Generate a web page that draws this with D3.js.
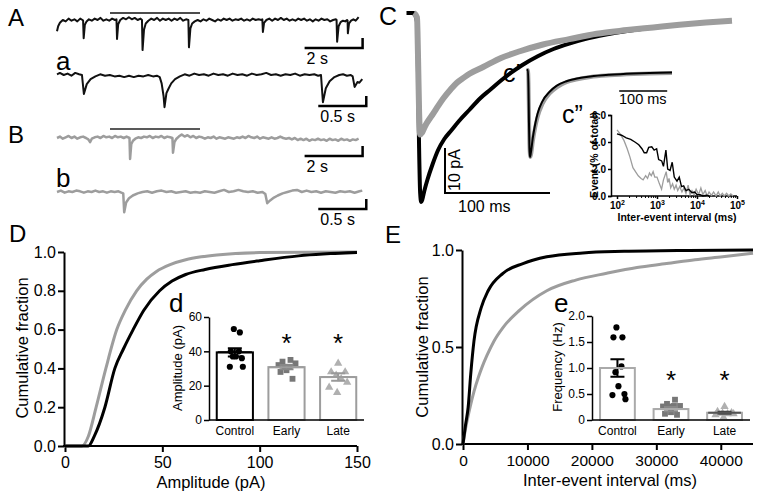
<!DOCTYPE html>
<html>
<head>
<meta charset="utf-8">
<script src="https://cdn.jsdelivr.net/npm/d3@7"></script>
<style>
  body { margin: 0; background: #fff; }
</style>
</head>
<body>
<div id="fig"></div>
<script>
// ---------- data ----------

// A / a / B / b : raw traces, [time (s), current (pA)]
var traceA = [[0,-16],[0.04,-9],[0.1,-4],[0.2,0],[0.3,-2],[0.4,2],[0.5,-1],[0.6,1],[0.7,-2],[0.8,2],[0.88,0],[0.9,-1],[0.92,-26],[0.96,-7],[1.02,-2],[1.1,1],[1.2,-1],[1.3,2],[1.4,0],[1.5,3],[1.6,-1],[1.7,1],[1.8,-1],[1.9,2],[2.0,0],[2.05,1],[2.07,-27],[2.11,-6],[2.18,0],[2.28,3],[2.38,1],[2.48,4],[2.58,1],[2.68,3],[2.78,0],[2.88,2],[2.93,0],[2.95,-43],[3.0,-14],[3.06,-5],[3.15,-1],[3.25,2],[3.35,0],[3.45,3],[3.55,-1],[3.65,2],[3.75,0],[3.85,2],[3.95,-1],[4.05,2],[4.15,0],[4.25,3],[4.35,-1],[4.45,1],[4.53,0],[4.55,-39],[4.6,-12],[4.66,-5],[4.75,-2],[4.85,0],[4.95,-2],[5.05,1],[5.15,-1],[5.25,2],[5.35,0],[5.45,-2],[5.55,1],[5.65,-1],[5.75,2],[5.85,0],[5.95,2],[6.05,-1],[6.15,1],[6.25,0],[6.35,2],[6.45,-1],[6.55,1],[6.65,-1],[6.75,2],[6.85,0],[6.95,1],[7.05,0],[7.08,1],[7.1,-17],[7.14,-4],[7.22,0],[7.32,2],[7.42,-1],[7.52,2],[7.62,0],[7.72,3],[7.82,0],[7.92,2],[8.02,-1],[8.12,1],[8.22,-1],[8.32,2],[8.42,0],[8.52,2],[8.62,-1],[8.72,1],[8.82,-2],[8.92,1],[9.02,-1],[9.12,2],[9.22,0],[9.32,1],[9.42,-2],[9.52,0],[9.62,1],[9.64,0],[9.66,-31],[9.71,-9],[9.78,-3],[9.86,-1],[9.94,-2],[10.0,0],[10.02,-1],[10.03,-19],[10.07,-5],[10.14,-1],[10.22,1],[10.3,-1],[10.36,2],[10.4,4]];

var traceA2 = [[0,1],[0.03,3],[0.07,0],[0.11,2],[0.15,-1],[0.19,3],[0.23,1],[0.26,0],[0.28,-27],[0.31,-13],[0.35,-6],[0.4,-2],[0.45,1],[0.5,-1],[0.55,0],[0.6,-2],[0.65,-1],[0.7,-3],[0.75,-1],[0.8,-3],[0.85,-1],[0.9,-2],[0.95,0],[1.0,-2],[1.04,-1],[1.07,-3],[1.09,-12],[1.11,-30],[1.12,-46],[1.14,-26],[1.16,-20],[1.19,-12],[1.23,-6],[1.28,-2],[1.33,1],[1.38,-1],[1.43,2],[1.48,0],[1.53,1],[1.58,-1],[1.63,2],[1.68,0],[1.73,1],[1.78,-1],[1.83,2],[1.88,0],[1.93,1],[1.98,-1],[2.03,2],[2.08,0],[2.13,1],[2.18,3],[2.23,0],[2.28,1],[2.33,-1],[2.38,1],[2.43,0],[2.48,2],[2.53,-1],[2.58,1],[2.63,0],[2.68,1],[2.72,-1],[2.75,0],[2.77,-39],[2.8,-19],[2.84,-9],[2.89,-3],[2.94,0],[2.98,1],[3.02,-1],[3.06,0],[3.08,-2],[3.1,-17],[3.13,-10],[3.15,-11],[3.18,-6]];

var traceB = [[0,0],[0.1,2],[0.2,-1],[0.3,1],[0.4,3],[0.5,0],[0.6,2],[0.7,-1],[0.8,1],[0.9,2],[1.0,0],[1.08,-2],[1.14,-6],[1.2,-1],[1.3,1],[1.4,2],[1.5,0],[1.6,3],[1.7,1],[1.8,2],[1.9,0],[2.0,3],[2.1,1],[2.2,2],[2.3,0],[2.4,2],[2.5,0],[2.52,-30],[2.56,-9],[2.62,-4],[2.7,-1],[2.8,1],[2.9,0],[3.0,2],[3.1,1],[3.2,3],[3.3,0],[3.4,2],[3.5,1],[3.6,3],[3.7,0],[3.8,2],[3.9,1],[3.98,0],[4.0,-21],[4.05,-6],[4.12,-1],[4.2,2],[4.3,5],[4.4,2],[4.5,4],[4.6,1],[4.7,3],[4.8,0],[4.9,2],[5.0,1],[5.1,-1],[5.2,1],[5.3,0],[5.4,2],[5.5,-1],[5.6,1],[5.7,0],[5.8,-1],[5.9,1],[6.0,0],[6.1,-1],[6.2,1],[6.3,0],[6.4,2],[6.5,0],[6.6,3],[6.7,1],[6.8,0],[6.9,2],[7.0,-1],[7.1,1],[7.2,0],[7.3,-1],[7.4,1],[7.5,-1],[7.6,0],[7.7,2],[7.8,0],[7.9,-1],[8.0,0],[8.1,-2],[8.2,0],[8.3,-3],[8.4,-1],[8.5,-3],[8.6,-1],[8.7,-4],[8.8,-2],[8.9,-3],[9.0,-1],[9.1,-3],[9.2,-2],[9.3,-4],[9.4,-1],[9.5,-3],[9.6,-2],[9.7,-4],[9.8,-1],[9.9,-3],[10.0,-2],[10.1,-4],[10.2,-2],[10.3,-3],[10.4,-1]];

var traceB2 = [[0,0],[0.04,2],[0.08,-1],[0.12,1],[0.16,0],[0.2,2],[0.24,1],[0.28,-1],[0.32,1],[0.36,0],[0.4,2],[0.44,0],[0.48,1],[0.52,-1],[0.56,1],[0.6,0],[0.64,1],[0.67,-1],[0.69,-2],[0.7,-29],[0.72,-15],[0.75,-9],[0.79,-5],[0.84,-2],[0.89,0],[0.94,1],[0.99,-1],[1.04,1],[1.09,2],[1.14,0],[1.19,1],[1.24,-1],[1.29,0],[1.34,1],[1.39,-1],[1.44,0],[1.49,-1],[1.54,1],[1.59,0],[1.64,-1],[1.69,1],[1.74,3],[1.79,0],[1.84,1],[1.89,3],[1.94,1],[1.99,0],[2.04,1],[2.09,-1],[2.14,0],[2.17,-3],[2.19,-16],[2.22,-12],[2.26,-8],[2.3,-5],[2.35,-2],[2.4,0],[2.45,2],[2.5,3],[2.55,0],[2.6,2],[2.65,0],[2.7,1],[2.75,-1],[2.8,1],[2.85,0],[2.9,-1],[2.95,1],[3.0,0],[3.05,1],[3.1,-1],[3.15,1],[3.18,2]];

// C : averaged events, [time (ms), current (pA)]
var avgControl = [[-10,0],[-3,0],[0,-2],[1,-14],[2,-30],[3,-40],[4,-42],[5,-41.5],[7,-39.5],[10,-37],[15,-33.5],[20,-30.5],[26,-28],[33,-26],[40,-24],[50,-21.5],[60,-19],[70,-17],[80,-15],[90,-13.2],[100,-11.6],[115,-9.6],[130,-8],[145,-6.8],[160,-5.8],[180,-4.8],[200,-4],[225,-3.2],[250,-2.6],[275,-2.1],[290,-1.9]];
var avgTreated = [[-3,0],[0,-1],[1,-10],[2,-22],[3,-27],[5,-26.5],[8,-25],[12,-23.5],[15,-22.5],[20,-20.7],[25,-19],[32,-17],[38,-15.5],[45,-14.3],[50,-13.5],[63,-12],[80,-10],[98,-8.5],[120,-7],[145,-5.8],[171,-4.6],[200,-3.8],[225,-3.2],[250,-2.6],[275,-2.1],[300,-1.7]];

// c' : peak-normalised events, [time (ms), fraction of peak]
var normControl = [[-3,0],[0,0],[1,-0.2],[2,-0.6],[3,-0.9],[4,-1],[6,-0.95],[10,-0.78],[15,-0.62],[20,-0.5],[30,-0.36],[45,-0.25],[60,-0.18],[80,-0.13],[100,-0.1],[130,-0.075],[170,-0.055],[220,-0.04],[300,-0.03]];
var normTreated = [[-3,0],[0,0],[1,-0.15],[2,-0.5],[3,-0.85],[4,-0.97],[5,-1],[7,-0.95],[10,-0.82],[15,-0.66],[20,-0.54],[30,-0.39],[45,-0.27],[60,-0.2],[80,-0.14],[100,-0.11],[130,-0.08],[170,-0.06],[220,-0.045],[300,-0.035]];

// c'' : inter-event interval histogram, [interval (ms), % of total]
var histControl = [[100,4.6],[130,4.5],[170,4.3],[220,4.2],[280,4.0],[350,3.8],[420,3.5],[480,3.2],[550,3.2],[620,3.6],[740,3.65],[850,3.4],[980,3.5],[1100,2.7],[1310,2.6],[1450,2.2],[1670,3.4],[1850,2.0],[2120,1.9],[2400,2.5],[2700,1.4],[3160,1.1],[3600,1.4],[4100,0.7],[4640,0.75],[5300,0.4],[6200,0.5],[7500,0.25],[8800,0.3],[10000,0.1],[12000,0.1],[14000,0],[17000,0.05],[20000,0]];
var histTreated = [[100,4.9],[120,4.6],[150,4.1],[180,3.5],[210,2.9],[250,2.1],[290,1.8],[340,1.5],[400,1.3],[450,1.2],[520,1.5],[580,1.3],[650,1.7],[720,1.5],[800,1.8],[880,1.4],[1000,1.4],[1150,0.9],[1300,0.5],[1450,1.2],[1700,1.8],[1850,1.0],[2000,1.3],[2200,0.6],[2450,0.9],[2700,0.5],[3000,0.8],[3300,0.4],[3700,0.7],[4200,0.3],[4700,0.6],[5300,0.2],[6000,0.8],[6700,0.1],[7500,0.4],[8500,0.1],[9500,0.5],[11000,0.1],[12500,0.6],[14000,0.1],[16000,0.4],[18000,0],[20000,0.3],[23000,0.05],[26000,0.3],[30000,0],[34000,0.3],[38000,0],[43000,0.2],[48000,0],[55000,0.2],[62000,0],[70000,0.15],[80000,0]];

// D : cumulative amplitude distributions
var ampControl = [0, 12, 15, 20.5, 25.6, 30, 35, 40.5, 48.6, 55, 62, 72, 86, 100, 120, 150];
var ampControlCF = [0, 0, 0.05, 0.2, 0.4, 0.5, 0.6, 0.7, 0.8, 0.85, 0.884, 0.91, 0.935, 0.955, 0.98, 0.997];
var ampTreated = [0, 8.7, 12, 16, 21, 26.6, 31, 36.8, 42, 47, 54, 62, 70, 78, 100, 150];
var ampTreatedCF = [0, 0, 0.05, 0.2, 0.4, 0.6, 0.7, 0.8, 0.86, 0.9, 0.935, 0.96, 0.975, 0.985, 0.997, 1.0];

// E : cumulative inter-event interval distributions
var iei = [0, 400, 800, 1200, 1700, 2800, 3900, 6200, 9300, 13000, 18600, 25000, 35000, 45000];
var ieiControlCF = [0, 0.1, 0.19, 0.36, 0.53, 0.70, 0.79, 0.88, 0.93, 0.965, 0.985, 0.993, 0.998, 1.0];
var ieiT = [0, 400, 1100, 1700, 2400, 3000, 3700, 4800, 6200, 8800, 13000, 17500, 22300, 27000, 31600, 36000, 40300, 45000];
var ieiTreatedCF = [0, 0.08, 0.19, 0.27, 0.345, 0.40, 0.455, 0.53, 0.60, 0.69, 0.79, 0.845, 0.88, 0.91, 0.93, 0.95, 0.965, 0.983];

// d / e : group summaries
var groups = ["Control", "Early", "Late"];
var ampPoints = [
  [53, 51, 40, 40, 37, 37, 36, 31, 31],
  [35, 34, 33, 32, 31, 31, 29, 28, 24],
  [33, 28, 28, 26, 24, 22, 19, 16]
];
var ampMean = [39.4, 30.8, 25.0];
var ampSem = [2.4, 1.2, 2.2];
var freqPoints = [
  [1.78, 1.59, 1.59, 1.03, 0.92, 0.65, 0.5, 0.48, 0.4],
  [0.39, 0.31, 0.27, 0.26, 0.26, 0.27, 0.15, 0.12, 0.1],
  [0.26, 0.16, 0.14, 0.13, 0.12, 0.12, 0.1, 0.05]
];
var freqMean = [1.0, 0.21, 0.14];
var freqSem = [0.17, 0.04, 0.02];
var significant = [false, true, true];

// tick labels
var cumTicksD = [0, 0.2, 0.4, 0.6, 0.8, 1.0];
var ampTicks = [0, 50, 100, 150];
var cumTicksE = [0, 0.5, 1.0];
var ieiTicks = [0, 10000, 20000, 30000, 40000];
var ampInsetTicks = [0, 20, 40, 60];
var freqInsetTicks = [0, 0.5, 1.0, 1.5, 2.0];
var histYTicks = [0, 2, 4, 6];
var histXTicks = [100, 1000, 10000, 100000];

// ---------- drawing ----------
var FONT = "'Liberation Sans', Arial, Helvetica, sans-serif";
var GRAY = "#9d9d9d";

var svg = d3.select("#fig").append("svg")
  .attr("width", 761).attr("height", 498)
  .style("background", "#fff")
  .attr("font-family", FONT);

function label(x, y, txt, size, opts) {
  opts = opts || {};
  var t = svg.append("text").attr("x", x).attr("y", y)
    .attr("font-size", size).attr("fill", "#000")
    .attr("text-anchor", opts.anchor || "start")
    .text(txt);
  if (opts.bold) t.attr("font-weight", "bold");
  if (opts.rotate) t.attr("transform", "rotate(-90," + x + "," + y + ")");
  return t;
}

function styleAxis(g, size, bold) {
  g.attr("font-family", FONT).attr("font-size", size);
  g.select(".domain").attr("stroke-width", 2).attr("stroke", "#000");
  g.selectAll(".tick line").attr("stroke-width", 2).attr("stroke", "#000");
  g.selectAll(".tick text").attr("fill", "#000").attr("font-weight", bold ? "bold" : null);
}

// raw traces with their time scale bars
function drawTrace(data, o) {
  var dur = data[data.length - 1][0];
  var x = d3.scaleLinear().domain([0, dur]).range([57, 57 + dur * o.pxPerS]);
  var y = d3.scaleLinear().domain([-50, 0]).range([o.base + 50 * 0.7, o.base]);
  svg.append("path").datum(data)
    .attr("fill", "none").attr("stroke", o.color).attr("stroke-width", o.w)
    .attr("stroke-linejoin", "round")
    .attr("d", d3.line().x(function(d) { return x(d[0]); }).y(function(d) { return y(d[1]); }));
  // scale bar: o.barSec long, ending just after the trace
  var xe = x(dur) + 4, xs = xe - o.barSec * o.pxPerS, yb = o.base + o.barDrop;
  svg.append("path")
    .attr("d", "M" + xs + "," + yb + "H" + xe + "V" + (yb - 10))
    .attr("fill", "none").attr("stroke", "#000").attr("stroke-width", 2.5);
  label(xs + 2, yb + 16, o.barText, 16);
}

drawTrace(traceA, {pxPerS: 29, base: 20, color: "#111", w: 2, barSec: 2, barDrop: 28, barText: "2 s"});
drawTrace(traceA2, {pxPerS: 96, base: 75, color: "#111", w: 2, barSec: 0.5, barDrop: 31, barText: "0.5 s"});
drawTrace(traceB, {pxPerS: 29, base: 138, color: GRAY, w: 2.5, barSec: 2, barDrop: 18, barText: "2 s"});
drawTrace(traceB2, {pxPerS: 96, base: 192, color: GRAY, w: 2.5, barSec: 0.5, barDrop: 17, barText: "0.5 s"});

// lines marking the expanded stretch
svg.append("line").attr("x1", 110).attr("x2", 200).attr("y1", 13).attr("y2", 13).attr("stroke", "#111").attr("stroke-width", 1.5);
svg.append("line").attr("x1", 110).attr("x2", 200).attr("y1", 129).attr("y2", 129).attr("stroke", "#222").attr("stroke-width", 1.5);

label(8, 26, "A", 24);
label(56, 70, "a", 26);
label(8, 143, "B", 24);
label(56, 187, "b", 26);

// C : averaged events
var xC = d3.scaleLinear().domain([0, 300]).range([417, 732]);
var yC = d3.scaleLinear().domain([-45, 0]).range([13 + 45 * 4.5, 13]);
var lineC = d3.line().x(function(d) { return xC(d[0]); }).y(function(d) { return yC(d[1]); }).curve(d3.curveMonotoneX);
svg.append("path").datum(avgControl).attr("fill", "none").attr("stroke", "#000").attr("stroke-width", 4).attr("d", lineC);
svg.append("path").datum(avgTreated).attr("fill", "none").attr("stroke", GRAY).attr("stroke-width", 6).attr("d", lineC);
// scale bar 10 pA / 100 ms
var sb0 = xC.invert(445);
svg.append("path")
  .attr("d", "M" + xC(sb0) + "," + yC(-30) + "V" + yC(-40) + "H" + xC(sb0 + 100))
  .attr("fill", "none").attr("stroke", "#000").attr("stroke-width", 2);
label(460, 170, "10 pA", 16, {anchor: "middle", rotate: true});
label(458, 212, "100 ms", 16);
label(379, 25, "C", 25);

// c' : normalised
var xP = d3.scaleLinear().domain([0, 300]).range([528, 672]);
var yP = d3.scaleLinear().domain([-1, 0]).range([157, 70]);
var lineP = d3.line().x(function(d) { return xP(d[0]); }).y(function(d) { return yP(d[1]); }).curve(d3.curveMonotoneX);
svg.append("path").datum(normTreated).attr("fill", "none").attr("stroke", GRAY).attr("stroke-width", 4).attr("d", lineP);
svg.append("path").datum(normControl).attr("fill", "none").attr("stroke", "#000").attr("stroke-width", 2).attr("d", lineP);
svg.append("line").attr("x1", xP(190)).attr("x2", xP(290)).attr("y1", 91).attr("y2", 91).attr("stroke", "#000").attr("stroke-width", 1.5);
label(619, 104, "100 ms", 14.5);
label(503, 82, "c\u2019", 25);

// c'' : histogram
var xL = d3.scaleLog().domain([100, 100000]).range([617, 737]);
var yL = d3.scaleLinear().domain([0, 6]).range([196, 115]);
var lineL = d3.line().x(function(d) { return xL(d[0]); }).y(function(d) { return yL(d[1]); });
var gLy = svg.append("g").attr("transform", "translate(611,0)")
  .call(d3.axisLeft(yL).tickValues(histYTicks).tickSize(3).tickPadding(2));
styleAxis(gLy, 10, true);
gLy.select(".domain").attr("stroke-width", 1.5);
gLy.selectAll(".tick line").attr("stroke-width", 1.5);
var gLminor = svg.append("g").attr("transform", "translate(0,196)")
  .call(d3.axisBottom(xL).tickValues(xL.ticks()).tickSize(2).tickFormat(""));
gLminor.select(".domain").attr("stroke-width", 1.5).attr("d", "M611,0H737");
gLminor.selectAll(".tick line").attr("stroke", "#000").attr("stroke-width", 1);
var gLx = svg.append("g").attr("transform", "translate(0,196)")
  .call(d3.axisBottom(xL).tickValues(histXTicks).tickSize(3).tickPadding(2).tickFormat(""));
styleAxis(gLx, 10, true);
gLx.select(".domain").remove();
gLx.selectAll(".tick line").attr("stroke-width", 1.5);
gLx.selectAll(".tick").append("text")
  .attr("y", 13).attr("text-anchor", "middle").attr("fill", "#000").attr("font-weight", "bold")
  .each(function(d) {
    var t = d3.select(this);
    t.append("tspan").text("10");
    t.append("tspan").attr("dy", -4).attr("font-size", 7).text(Math.round(Math.log10(d)));
  });
svg.append("path").datum(histTreated).attr("fill", "none").attr("stroke", GRAY).attr("stroke-width", 1.3).attr("d", lineL);
svg.append("path").datum(histControl).attr("fill", "none").attr("stroke", "#000").attr("stroke-width", 1.4).attr("d", lineL);
label(677, 221, "Inter-event interval (ms)", 10.5, {anchor: "middle", bold: true});
label(598, 155, "Event (% of total)", 10.5, {anchor: "middle", bold: true, rotate: true});
label(562, 123, "c\u201D", 25);

// D : cumulative amplitude
var xD = d3.scaleLinear().domain([0, 150]).range([65, 357]);
var yD = d3.scaleLinear().domain([0, 1]).range([446, 252]);
var gDx = svg.append("g").attr("transform", "translate(0,446)")
  .call(d3.axisBottom(xD).tickValues(ampTicks).tickSize(6).tickSizeOuter(0).tickPadding(5));
styleAxis(gDx, 16);
gDx.select(".domain").attr("d", "M63,0H357");
var gDy = svg.append("g").attr("transform", "translate(64,0)")
  .call(d3.axisLeft(yD).tickValues(cumTicksD).tickFormat(d3.format(".1f")).tickSize(6).tickSizeOuter(0).tickPadding(2));
styleAxis(gDy, 16);
var lineD = d3.line().x(function(d) { return xD(d[0]); }).y(function(d) { return yD(d[1]); }).curve(d3.curveMonotoneX);
svg.append("path").datum(d3.zip(ampTreated, ampTreatedCF)).attr("fill", "none").attr("stroke", GRAY).attr("stroke-width", 3).attr("d", lineD);
svg.append("path").datum(d3.zip(ampControl, ampControlCF)).attr("fill", "none").attr("stroke", "#000").attr("stroke-width", 3).attr("d", lineD);
label(211, 488, "Amplitude (pA)", 16.5, {anchor: "middle"});
label(28, 348, "Cumulative fraction", 16.5, {anchor: "middle", rotate: true});
label(9, 242, "D", 24);

// E : cumulative inter-event interval
var xE = d3.scaleLinear().domain([0, 45000]).range([463, 753]);
var yE = d3.scaleLinear().domain([0, 1]).range([444, 250]);
var gEx = svg.append("g").attr("transform", "translate(0,444)")
  .call(d3.axisBottom(xE).tickValues(ieiTicks).tickFormat(d3.format("d")).tickSize(6).tickSizeOuter(0).tickPadding(5));
styleAxis(gEx, 15.5);
gEx.select(".domain").attr("d", "M461,0H753");
var gEy = svg.append("g").attr("transform", "translate(462,0)")
  .call(d3.axisLeft(yE).tickValues(cumTicksE).tickFormat(d3.format(".1f")).tickSize(6).tickSizeOuter(0).tickPadding(2));
styleAxis(gEy, 16);
var lineE = d3.line().x(function(d) { return xE(d[0]); }).y(function(d) { return yE(d[1]); }).curve(d3.curveMonotoneX);
svg.append("path").datum(d3.zip(ieiT, ieiTreatedCF)).attr("fill", "none").attr("stroke", GRAY).attr("stroke-width", 3).attr("d", lineE);
svg.append("path").datum(d3.zip(iei, ieiControlCF)).attr("fill", "none").attr("stroke", "#000").attr("stroke-width", 3).attr("d", lineE);
label(610, 486, "Inter-event interval (ms)", 16.5, {anchor: "middle"});
label(428, 347, "Cumulative fraction", 16.5, {anchor: "middle", rotate: true});
label(385, 243, "E", 24);

// d / e : bar + scatter insets
var jitter = [
  [-1, 5, -4, 4, -2, 1, 7, -5, 8],
  [4, -4, 9, -8, -2, 3, 0, -6, 6],
  [0, -7, 7, -2, 3, 9, -9, -1]
];
var markStyle = [
  {shape: d3.symbolCircle, size: 30, color: "#000"},
  {shape: d3.symbolSquare, size: 34, color: "#777"},
  {shape: d3.symbolTriangle, size: 30, color: "#b0b0b0"}
];

function inset(o) {
  var x = d3.scaleBand().domain(groups).range([o.x0, o.x1]).paddingInner(o.pad).paddingOuter(0.15);
  var y = d3.scaleLinear().domain(o.domain).range([420, o.yTop]);
  var g = svg.append("g");
  // bars
  g.selectAll("rect.bar").data(o.mean).enter().append("rect")
    .attr("x", function(d, i) { return x(groups[i]); })
    .attr("y", function(d) { return y(d); })
    .attr("width", x.bandwidth())
    .attr("height", function(d) { return 420 - y(d); })
    .attr("fill", "#fff")
    .attr("stroke", function(d, i) { return o.barColor[i]; })
    .attr("stroke-width", 2);
  // points
  o.points.forEach(function(arr, gi) {
    var st = markStyle[gi];
    g.selectAll(null).data(arr).enter().append("path")
      .attr("d", d3.symbol().type(st.shape).size(st.size))
      .attr("fill", st.color)
      .attr("transform", function(d, i) {
        return "translate(" + (x(groups[gi]) + x.bandwidth() / 2 + jitter[gi][i]) + "," + y(d) + ")";
      });
  });
  // error bars (mean +/- sem)
  o.mean.forEach(function(m, i) {
    var cx = x(groups[i]) + x.bandwidth() / 2, lo = y(m - o.sem[i]), hi = y(m + o.sem[i]);
    g.append("path")
      .attr("d", "M" + cx + "," + lo + "V" + hi + "M" + (cx - 7) + "," + hi + "H" + (cx + 7) + "M" + (cx - 7) + "," + lo + "H" + (cx + 7))
      .attr("stroke", o.errColor[i]).attr("stroke-width", 2).attr("fill", "none");
    g.append("line").attr("x1", x(groups[i]) + 1).attr("x2", x(groups[i]) + x.bandwidth() - 1)
      .attr("y1", y(m)).attr("y2", y(m)).attr("stroke", o.barColor[i] === "#000" ? "#000" : o.meanColor[i]).attr("stroke-width", 2);
    if (significant[i]) {
      g.append("text").attr("x", cx).attr("y", o.starY).attr("text-anchor", "middle")
        .attr("font-size", 26).attr("fill", "#000").text("*");
    }
  });
  var gx = svg.append("g").attr("transform", "translate(0,420)")
    .call(d3.axisBottom(x).tickSize(0).tickPadding(6));
  styleAxis(gx, 12);
  gx.select(".domain").attr("d", "M" + o.x0 + ",0H" + o.x1);
  var gy = svg.append("g").attr("transform", "translate(" + o.x0 + ",0)")
    .call(d3.axisLeft(y).tickValues(o.ticks).tickFormat(o.fmt).tickSize(5).tickSizeOuter(0).tickPadding(2));
  styleAxis(gy, 12);
  gy.select(".domain").attr("stroke-width", 1.5);
  gy.selectAll(".tick line").attr("stroke-width", 1.5);
  gx.select(".domain").attr("stroke-width", 1.5);
}

inset({x0: 209, x1: 364, yTop: 317, domain: [0, 60], pad: 0.3,
  mean: ampMean, sem: ampSem, points: ampPoints, ticks: ampInsetTicks,
  fmt: d3.format("d"), barColor: ["#000", GRAY, GRAY], errColor: ["#000", "#888", "#999"],
  meanColor: ["#000", GRAY, GRAY], starY: 352});
label(182, 368, "Amplitude (pA)", 13, {anchor: "middle", rotate: true});
label(169, 312, "d", 26);

inset({x0: 592, x1: 750, yTop: 316, domain: [0, 2], pad: 0.35,
  mean: freqMean, sem: freqSem, points: freqPoints, ticks: freqInsetTicks,
  fmt: function(d) { return d === 0 ? "0" : d3.format(".1f")(d); },
  barColor: ["#aaa", "#aaa", "#aaa"], errColor: ["#000", "#888", "#444"],
  meanColor: ["#aaa", "#aaa", "#555"], starY: 389});
label(562, 367, "Frequency (Hz)", 13, {anchor: "middle", rotate: true});
label(554, 312, "e", 26);
</script>
</body>
</html>
